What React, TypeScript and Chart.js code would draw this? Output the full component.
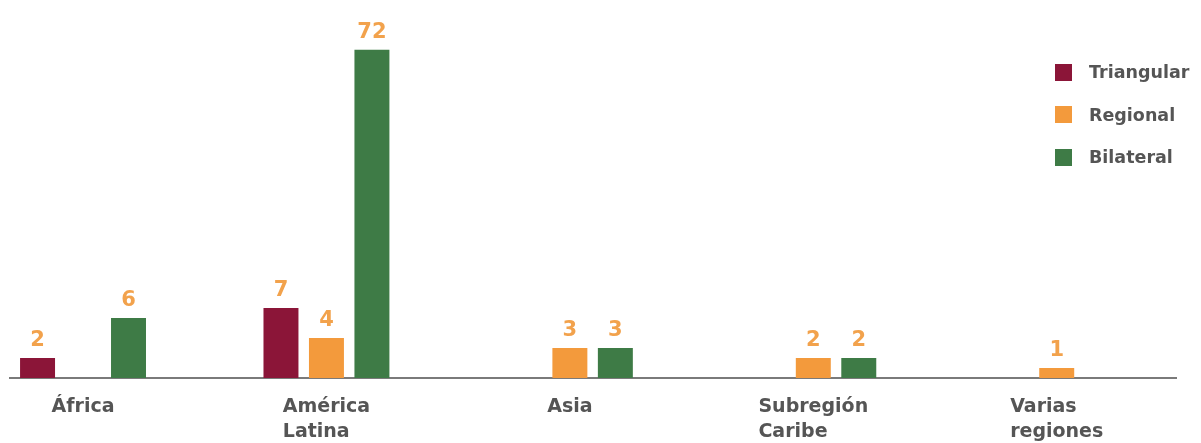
import React, { useEffect, useRef } from "react";
import { Chart, registerables, LinearScale } from "chart.js";

// ---------- data ----------
const categoryLabels: string[][] = [
  ["África"],
  ["América", "Latina"],
  ["Asia"],
  ["Subregión", "Caribe"],
  ["Varias", "regiones"],
];
const seriesNames = ["Triangular", "Regional", "Bilateral"];
const triangularValues: (number | null)[] = [2, 7, null, null, null];
const regionalValues: (number | null)[] = [null, 4, 3, 2, 1];
const bilateralValues: (number | null)[] = [6, 72, 3, 2, null];

// ---------- styles ----------
const SERIES_COLORS = ["#8B1538", "#F39A3C", "#3E7B46"];
const LABEL_COLOR = "#F2A24C";
const TEXT_COLOR = "#555555";
const AXIS_COLOR = "#7A7A7A";
const FONT = "'DejaVu Sans', sans-serif";

// the original value axis is broken: values above Y_BREAK are compressed
const Y_BREAK = 7;
const Y_UPPER_FACTOR = 0.397;
const Y_MAX = 82;
const X_MIN = -0.3;
const X_MAX = 4.49;

const fwd = (v: number) => (v <= Y_BREAK ? v : Y_BREAK + (v - Y_BREAK) * Y_UPPER_FACTOR);
const inv = (t: number) => (t <= Y_BREAK ? t : Y_BREAK + (t - Y_BREAK) / Y_UPPER_FACTOR);

class BrokenLinearScale extends LinearScale {
  static id = "brokenLinear";
  static defaults = LinearScale.defaults;
  getPixelForValue(value: any) {
    if (value === null || value === undefined || Number.isNaN(+value)) return NaN;
    const a = fwd((this as any).min);
    const b = fwd((this as any).max);
    return this.getPixelForDecimal((fwd(+value) - a) / (b - a));
  }
  getValueForPixel(pixel: number) {
    const a = fwd((this as any).min);
    const b = fwd((this as any).max);
    return inv(a + this.getDecimalForPixel(pixel) * (b - a));
  }
}

Chart.register(...registerables, BrokenLinearScale as any);

const valueLabelPlugin = {
  id: "valueLabels",
  afterDatasetsDraw(chart: any) {
    const ctx = chart.ctx;
    ctx.save();
    ctx.font = `bold 21px ${FONT}`;
    ctx.fillStyle = LABEL_COLOR;
    ctx.textAlign = "center";
    ctx.textBaseline = "alphabetic";
    chart.data.datasets.forEach((ds: any, di: number) => {
      const meta = chart.getDatasetMeta(di);
      meta.data.forEach((el: any, i: number) => {
        const v = ds.data[i].y;
        if (v === null || v === undefined) return;
        ctx.fillText(String(v), el.x, el.y - 12);
      });
    });
    ctx.restore();
  },
};

const categoryLabelPlugin = {
  id: "categoryLabels",
  afterDraw(chart: any) {
    const ctx = chart.ctx;
    const xs = chart.scales.x;
    const bottom = chart.chartArea.bottom;
    ctx.save();
    ctx.font = `bold 19px ${FONT}`;
    ctx.fillStyle = TEXT_COLOR;
    ctx.textAlign = "left";
    ctx.textBaseline = "alphabetic";
    categoryLabels.forEach((lines, i) => {
      const w = Math.max(...lines.map((l) => ctx.measureText(l).width));
      const x = xs.getPixelForValue(i) - w / 2;
      lines.forEach((line, j) => ctx.fillText(line, x, bottom + 34 + j * 25));
    });
    ctx.restore();
  },
};

export default function App() {
  const canvasRef = useRef<HTMLCanvasElement | null>(null);

  useEffect(() => {
    if (!canvasRef.current) return;
    const seriesValues = [triangularValues, regionalValues, bilateralValues];
    const chart = new Chart(canvasRef.current, {
      type: "bar",
      data: {
        datasets: seriesNames.map((name, s) => ({
          label: name,
          data: seriesValues[s].map((v, i) => ({ x: i, y: v })),
          backgroundColor: SERIES_COLORS[s],
          borderWidth: 0,
          categoryPercentage: 0.5605,
          barPercentage: 0.769,
        })),
      },
      options: {
        responsive: false,
        animation: false,
        layout: { padding: { left: 10, right: 25, top: 10, bottom: 65 } },
        plugins: { legend: { display: false }, tooltip: { enabled: false } },
        scales: {
          x: {
            type: "linear",
            min: X_MIN,
            max: X_MAX,
            bounds: "data",
            offset: false,
            ticks: { display: false, stepSize: 1, includeBounds: false },
            grid: { display: false, drawTicks: false, offset: false },
            border: { display: true, color: AXIS_COLOR, width: 2 },
          },
          y: {
            type: "brokenLinear",
            min: 0,
            max: Y_MAX,
            bounds: "data",
            display: false,
          },
        } as any,
      },
      plugins: [valueLabelPlugin, categoryLabelPlugin],
    } as any);
    return () => chart.destroy();
  }, []);

  return (
    <div style={{ position: "fixed", left: 0, top: 0, width: 1201, height: 443, background: "#fff" }}>
      <canvas ref={canvasRef} width={1201} height={443} />
      <div
        style={{
          position: "absolute",
          left: 1055,
          top: 51,
          fontFamily: FONT,
          fontSize: 17.5,
          fontWeight: "bold",
          color: TEXT_COLOR,
          whiteSpace: "nowrap",
        }}
      >
        {seriesNames.map((name, s) => (
          <div key={name} style={{ display: "flex", alignItems: "center", height: 42.5 }}>
            <span
              style={{ display: "inline-block", width: 17, height: 17, background: SERIES_COLORS[s], marginRight: 17 }}
            />
            <span>{name}</span>
          </div>
        ))}
      </div>
    </div>
  );
}
